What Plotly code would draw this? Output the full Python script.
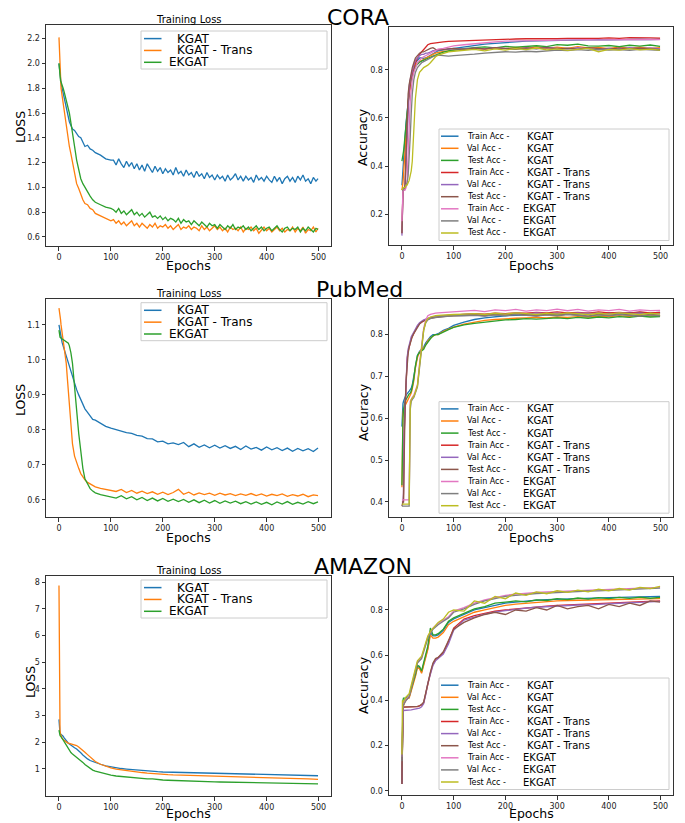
import plotly.graph_objects as go

# The page body has an 8px margin, so the figure is drawn 8px right/down of the window origin.
PAGE_OFFSET = 8
W, H = 685 - PAGE_OFFSET, 823 - PAGE_OFFSET

EPOCHS_CORA_LOSS = [0, 1, 2, 3, 4, 6, 8, 10, 12, 14, 16, 18, 20, 23, 26, 30, 34, 38, 42, 46, 50, 55, 60, 65, 70, 80, 90, 100,
                    105, 110, 115, 120, 125, 130, 135, 140, 145, 150, 155, 160, 165, 170, 175, 180, 185, 190, 195, 200,
                    205, 210, 215, 220, 225, 230, 235, 240, 245, 250, 255, 260, 265, 270, 275, 280, 285, 290, 295, 300,
                    305, 310, 315, 320, 325, 330, 335, 340, 345, 350, 355, 360, 365, 370, 375, 380, 385, 390, 395, 400,
                    405, 410, 415, 420, 425, 430, 435, 440, 445, 450, 455, 460, 465, 470, 475, 480, 485, 490, 495, 499]
EPOCHS_LOSS = [0, 1, 2, 3, 4, 6, 8, 10, 12, 14, 16, 18, 20, 23, 26, 30, 34, 38, 42, 46, 50, 55, 60, 65, 70, 80, 90, 100,
               110, 120, 130, 140, 150, 160, 170, 180, 190, 200, 210, 220, 230, 240, 250, 260, 270, 280, 290, 300,
               310, 320, 330, 340, 350, 360, 370, 380, 390, 400, 410, 420, 430, 440, 450, 460, 470, 480, 490, 499]
EPOCHS_ACC = [0, 1, 2, 3, 4, 6, 8, 10, 12, 14, 16, 18, 20, 23, 26, 30, 34, 38, 42, 46, 50, 55, 60, 65, 70, 80, 90, 100,
              120, 140, 160, 180, 200, 220, 240, 260, 280, 300, 320, 340, 360, 380, 400, 420, 440, 460, 480, 499]

# ---------------- Training loss ----------------
CORA_LOSS_KGAT = [2.00, 1.95, 1.90, 1.86, 1.84, 1.80, 1.76, 1.72, 1.68, 1.64, 1.60, 1.57, 1.53, 1.50, 1.47, 1.46, 1.43, 1.41, 1.40, 1.37, 1.33, 1.34, 1.31, 1.30, 1.28, 1.26, 1.23, 1.22,
                  1.22, 1.18, 1.23, 1.19, 1.16, 1.21, 1.17, 1.20, 1.15, 1.19, 1.14, 1.18, 1.13, 1.19, 1.15, 1.12, 1.17, 1.13, 1.16, 1.11,
                  1.15, 1.12, 1.14, 1.10, 1.16, 1.11, 1.13, 1.09, 1.14, 1.10, 1.12, 1.08, 1.13, 1.09, 1.11, 1.07, 1.12, 1.08, 1.10, 1.06,
                  1.10, 1.07, 1.09, 1.05, 1.10, 1.06, 1.08, 1.11, 1.06, 1.09, 1.05, 1.09, 1.06, 1.08, 1.04, 1.10, 1.06, 1.08, 1.05, 1.09,
                  1.06, 1.04, 1.09, 1.05, 1.08, 1.03, 1.07, 1.09, 1.05, 1.08, 1.04, 1.09, 1.06, 1.10, 1.05, 1.07, 1.03, 1.08, 1.05, 1.07]
CORA_LOSS_TRANS = [2.21, 2.05, 1.92, 1.85, 1.80, 1.74, 1.68, 1.62, 1.55, 1.48, 1.42, 1.38, 1.33, 1.27, 1.20, 1.09, 1.03, 0.99, 0.94, 0.90, 0.87, 0.86, 0.83, 0.82, 0.79, 0.77, 0.75, 0.73,
                   0.74, 0.71, 0.73, 0.70, 0.72, 0.69, 0.71, 0.73, 0.69, 0.71, 0.68, 0.71, 0.69, 0.67, 0.70, 0.68, 0.71, 0.67, 0.69, 0.68,
                   0.70, 0.67, 0.69, 0.66, 0.68, 0.70, 0.66, 0.68, 0.67, 0.69, 0.66, 0.68, 0.67, 0.65, 0.69, 0.66, 0.68, 0.65, 0.67, 0.69,
                   0.66, 0.68, 0.65, 0.67, 0.64, 0.68, 0.66, 0.67, 0.65, 0.68, 0.64, 0.67, 0.66, 0.68, 0.65, 0.67, 0.63, 0.66, 0.68, 0.65,
                   0.67, 0.64, 0.66, 0.68, 0.65, 0.67, 0.64, 0.66, 0.65, 0.68, 0.64, 0.67, 0.65, 0.68, 0.63, 0.66, 0.65, 0.68, 0.64, 0.67]
CORA_LOSS_EKGAT = [2.00, 1.93, 1.88, 1.86, 1.85, 1.83, 1.80, 1.77, 1.74, 1.70, 1.66, 1.63, 1.60, 1.52, 1.45, 1.33, 1.22, 1.13, 1.07, 1.03, 1.00, 0.97, 0.93, 0.90, 0.88, 0.86, 0.84, 0.83,
                   0.82, 0.80, 0.83, 0.79, 0.81, 0.78, 0.80, 0.82, 0.78, 0.80, 0.77, 0.79, 0.76, 0.78, 0.80, 0.76, 0.77, 0.75, 0.77, 0.74,
                   0.76, 0.73, 0.75, 0.74, 0.72, 0.75, 0.71, 0.74, 0.72, 0.73, 0.70, 0.73, 0.71, 0.69, 0.72, 0.70, 0.68, 0.71, 0.69, 0.70,
                   0.67, 0.70, 0.68, 0.66, 0.69, 0.67, 0.70, 0.66, 0.68, 0.67, 0.69, 0.66, 0.68, 0.65, 0.67, 0.69, 0.66, 0.68, 0.65, 0.67,
                   0.68, 0.65, 0.67, 0.69, 0.66, 0.64, 0.67, 0.68, 0.65, 0.67, 0.66, 0.68, 0.64, 0.67, 0.65, 0.68, 0.66, 0.64, 0.67, 0.66]

PUB_LOSS_KGAT = [1.10, 1.09, 1.08, 1.07, 1.06, 1.05, 1.04, 1.03, 1.02, 1.01, 1.00, 0.99, 0.98, 0.965, 0.95, 0.93, 0.915, 0.90, 0.885, 0.87, 0.86, 0.85, 0.84, 0.83, 0.828, 0.82, 0.81, 0.805,
                 0.80, 0.795, 0.792, 0.79, 0.784, 0.782, 0.775, 0.774, 0.766, 0.768, 0.76, 0.763, 0.758, 0.764, 0.752, 0.76, 0.75, 0.757, 0.749, 0.756,
                 0.748, 0.755, 0.747, 0.753, 0.744, 0.754, 0.745, 0.75, 0.742, 0.751, 0.743, 0.749, 0.741, 0.748, 0.739, 0.747, 0.74, 0.746, 0.738, 0.748]
PUB_LOSS_TRANS = [1.148, 1.14, 1.13, 1.115, 1.10, 1.08, 1.06, 1.04, 1.02, 0.99, 0.95, 0.91, 0.87, 0.81, 0.76, 0.725, 0.705, 0.69, 0.675, 0.665, 0.657, 0.65, 0.645, 0.64, 0.637, 0.633, 0.63, 0.628,
                  0.624, 0.63, 0.621, 0.627, 0.619, 0.625, 0.618, 0.623, 0.616, 0.622, 0.615, 0.621, 0.63, 0.616, 0.622, 0.614, 0.62, 0.615, 0.619, 0.613,
                  0.619, 0.614, 0.618, 0.612, 0.617, 0.613, 0.618, 0.612, 0.617, 0.611, 0.616, 0.612, 0.617, 0.61, 0.615, 0.611, 0.616, 0.609, 0.614, 0.612]
PUB_LOSS_EKGAT = [1.085, 1.07, 1.065, 1.063, 1.062, 1.061, 1.06, 1.058, 1.056, 1.054, 1.052, 1.048, 1.04, 1.02, 0.99, 0.915, 0.86, 0.79, 0.74, 0.69, 0.66, 0.645, 0.632, 0.625, 0.62, 0.615, 0.612, 0.61,
                  0.605, 0.612, 0.603, 0.609, 0.60, 0.607, 0.598, 0.605, 0.597, 0.604, 0.596, 0.602, 0.595, 0.601, 0.593, 0.60, 0.592, 0.599, 0.591, 0.598,
                  0.59, 0.597, 0.591, 0.596, 0.589, 0.595, 0.588, 0.594, 0.587, 0.593, 0.586, 0.594, 0.588, 0.595, 0.587, 0.593, 0.588, 0.595, 0.589, 0.594]

AMZ_LOSS_KGAT = [2.85, 2.40, 2.32, 2.30, 2.29, 2.27, 2.22, 2.16, 2.10, 2.05, 2.00, 1.96, 1.93, 1.88, 1.84, 1.79, 1.74, 1.68, 1.60, 1.52, 1.44, 1.37, 1.31, 1.27, 1.23, 1.17, 1.11, 1.07,
                 1.04, 1.01, 0.99, 0.97, 0.95, 0.93, 0.92, 0.90, 0.89, 0.88, 0.875, 0.865, 0.86, 0.85, 0.845, 0.84, 0.83, 0.825, 0.82, 0.815,
                 0.81, 0.805, 0.80, 0.795, 0.79, 0.787, 0.784, 0.78, 0.775, 0.77, 0.767, 0.764, 0.76, 0.757, 0.754, 0.75, 0.747, 0.744, 0.74, 0.738]
AMZ_LOSS_TRANS = [7.87, 2.90, 2.45, 2.30, 2.22, 2.15, 2.10, 2.06, 2.03, 2.00, 1.98, 1.96, 1.95, 1.93, 1.91, 1.89, 1.87, 1.82, 1.76, 1.69, 1.62, 1.53, 1.43, 1.34, 1.27, 1.17, 1.09, 1.03,
                  0.99, 0.96, 0.93, 0.90, 0.88, 0.86, 0.84, 0.82, 0.80, 0.79, 0.78, 0.77, 0.765, 0.76, 0.755, 0.75, 0.745, 0.74, 0.73, 0.725,
                  0.72, 0.715, 0.71, 0.705, 0.70, 0.695, 0.69, 0.685, 0.68, 0.675, 0.67, 0.665, 0.66, 0.655, 0.65, 0.64, 0.63, 0.62, 0.61, 0.60]
AMZ_LOSS_EKGAT = [2.45, 2.30, 2.25, 2.22, 2.20, 2.15, 2.08, 2.02, 1.95, 1.87, 1.80, 1.73, 1.67, 1.61, 1.55, 1.49, 1.44, 1.39, 1.32, 1.24, 1.16, 1.08, 1.01, 0.95, 0.91, 0.86, 0.80, 0.76,
                  0.73, 0.71, 0.69, 0.67, 0.65, 0.63, 0.62, 0.625, 0.59, 0.58, 0.57, 0.56, 0.555, 0.55, 0.54, 0.535, 0.53, 0.52, 0.515, 0.51,
                  0.505, 0.50, 0.495, 0.49, 0.485, 0.48, 0.475, 0.47, 0.465, 0.46, 0.458, 0.455, 0.452, 0.45, 0.447, 0.444, 0.441, 0.438, 0.435, 0.432]

# ---------------- Accuracy ----------------
CORA_TRAIN_KGAT = [.32, .36, .40, .43, .46, .52, .58, .63, .68, .72, .75, .77, .79, .81, .83, .84, .85, .85, .848, .85, .855, .862, .87, .875, .88, .884, .887, .89,
                   .897, .903, .908, .911, .915, .917, .92, .921, .922, .924, .923, .925, .924, .926, .925, .927, .926, .928, .927, .928]
CORA_VAL_KGAT = [.30, .31, .33, .36, .40, .47, .54, .60, .66, .70, .73, .76, .78, .80, .82, .83, .835, .84, .845, .85, .855, .86, .865, .87, .873, .877, .88, .884,
                 .887, .89, .886, .892, .889, .894, .89, .896, .891, .895, .89, .897, .892, .894, .889, .896, .891, .895, .89, .893]
CORA_TEST_KGAT = [.42, .43, .44, .46, .48, .53, .58, .63, .67, .71, .74, .76, .78, .80, .815, .825, .832, .837, .84, .843, .848, .853, .858, .862, .868, .874, .879, .883,
                  .889, .893, .896, .892, .898, .895, .899, .901, .897, .906, .903, .908, .90, .899, .902, .897, .903, .899, .904, .898]
CORA_TRAIN_TRANS = [.12, .28, .30, .30, .30, .31, .40, .55, .66, .72, .75, .77, .79, .81, .83, .85, .865, .875, .885, .895, .905, .91, .912, .914, .915, .917, .919, .92,
                    .922, .924, .925, .927, .928, .929, .93, .929, .931, .93, .932, .931, .933, .932, .934, .932, .935, .933, .934, .933]
CORA_VAL_TRANS = [.11, .27, .29, .30, .30, .31, .42, .57, .68, .73, .76, .78, .80, .82, .84, .85, .86, .865, .865, .87, .87, .875, .88, .88, .884, .885, .887, .889,
                  .887, .891, .888, .893, .889, .886, .892, .888, .894, .89, .887, .893, .888, .884, .891, .887, .893, .889, .892, .888]
CORA_TEST_TRANS = [.12, .28, .30, .30, .31, .32, .45, .60, .70, .74, .77, .79, .81, .83, .85, .86, .87, .875, .875, .88, .885, .89, .893, .886, .884, .887, .889, .89,
                   .886, .891, .888, .893, .89, .887, .892, .889, .893, .888, .891, .887, .893, .889, .886, .892, .888, .891, .887, .885]
CORA_TRAIN_EKGAT = [.17, .29, .30, .30, .30, .30, .31, .34, .45, .58, .67, .72, .76, .79, .81, .83, .84, .85, .855, .86, .865, .87, .878, .883, .887, .89, .895, .90,
                    .905, .91, .913, .917, .92, .921, .922, .923, .923, .924, .925, .924, .926, .925, .926, .925, .927, .926, .927, .926]
CORA_VAL_EKGAT = [.30, .30, .30, .31, .31, .31, .32, .33, .36, .42, .52, .62, .70, .76, .79, .81, .82, .83, .835, .84, .845, .85, .855, .86, .862, .86, .858, .86,
                  .862, .866, .87, .872, .876, .874, .878, .876, .88, .883, .881, .885, .882, .886, .883, .885, .882, .886, .884, .882]
CORA_TEST_EKGAT = [.30, .31, .31, .31, .31, .31, .32, .32, .33, .34, .36, .38, .42, .55, .68, .76, .79, .80, .81, .815, .82, .83, .845, .855, .862, .87, .875, .878,
                   .882, .886, .88, .888, .883, .889, .885, .891, .884, .888, .882, .887, .89, .876, .886, .883, .889, .884, .887, .883]

PUB_TRAIN_KGAT = [.58, .62, .635, .64, .645, .65, .655, .66, .662, .665, .668, .672, .68, .70, .725, .75, .76, .765, .77, .78, .787, .795, .80, .80, .802, .81, .815, .822,
                  .83, .836, .84, .843, .845, .846, .847, .848, .849, .848, .85, .849, .851, .85, .852, .851, .852, .853, .852, .853]
PUB_VAL_KGAT = [.435, .58, .61, .62, .625, .63, .635, .64, .645, .65, .655, .66, .67, .69, .72, .745, .758, .762, .768, .775, .785, .792, .797, .80, .80, .808, .813, .818,
                .825, .83, .834, .836, .838, .839, .84, .841, .84, .842, .841, .843, .842, .844, .843, .845, .843, .846, .844, .845]
PUB_TEST_KGAT = [.44, .56, .60, .62, .63, .64, .645, .65, .655, .658, .66, .665, .675, .695, .725, .75, .757, .76, .765, .775, .783, .79, .797, .80, .80, .807, .812, .817,
                 .823, .827, .83, .832, .835, .836, .838, .837, .839, .84, .838, .841, .839, .842, .84, .843, .841, .844, .842, .843]
PUB_TRAIN_TRANS = [.40, .40, .40, .40, .55, .63, .70, .74, .76, .775, .78, .79, .795, .805, .812, .82, .826, .83, .833, .836, .838, .84, .842, .843, .844, .845, .846, .847,
                   .848, .85, .849, .851, .85, .852, .851, .853, .852, .854, .852, .853, .851, .854, .852, .853, .851, .854, .852, .853]
PUB_VAL_TRANS = [.395, .395, .40, .42, .56, .64, .71, .745, .765, .78, .785, .795, .80, .808, .815, .822, .828, .832, .835, .837, .839, .841, .842, .843, .844, .845, .846, .847,
                 .848, .849, .847, .85, .848, .851, .849, .852, .85, .851, .849, .852, .85, .851, .849, .852, .85, .851, .849, .85]
PUB_TEST_TRANS = [.39, .40, .40, .40, .52, .62, .69, .73, .755, .77, .78, .787, .795, .803, .81, .818, .825, .83, .832, .835, .837, .839, .84, .841, .842, .843, .844, .845,
                  .846, .847, .845, .848, .846, .849, .847, .845, .848, .846, .849, .847, .844, .848, .846, .849, .847, .845, .848, .846]
PUB_TRAIN_EKGAT = [.405, .405, .405, .405, .405, .405, .405, .405, .405, .405, .64, .648, .65, .655, .665, .68, .73, .78, .815, .835, .845, .848, .85, .851, .852, .853, .854, .855,
                   .856, .858, .855, .859, .857, .86, .856, .859, .857, .861, .857, .86, .856, .859, .857, .86, .856, .859, .857, .858]
PUB_VAL_EKGAT = [.39, .39, .39, .39, .39, .39, .39, .39, .39, .39, .62, .64, .645, .65, .66, .675, .72, .77, .81, .828, .835, .838, .84, .841, .842, .843, .844, .845,
                 .845, .846, .844, .847, .845, .848, .846, .844, .847, .845, .848, .846, .844, .847, .845, .848, .846, .844, .847, .845]
PUB_TEST_EKGAT = [.395, .395, .395, .395, .395, .395, .395, .395, .395, .395, .63, .645, .648, .652, .662, .678, .725, .775, .81, .83, .838, .842, .844, .845, .846, .847, .848, .848,
                  .849, .85, .848, .851, .849, .852, .85, .848, .851, .849, .852, .85, .848, .851, .849, .852, .85, .848, .851, .849]

AMZ_TRAIN_KGAT = [.04, .36, .37, .38, .39, .40, .405, .41, .41, .415, .43, .45, .47, .49, .51, .55, .545, .525, .56, .60, .63, .70, .685, .685, .69, .71, .745, .76,
                  .78, .80, .81, .82, .83, .835, .84, .843, .846, .848, .85, .851, .853, .854, .855, .856, .857, .858, .859, .86]
AMZ_VAL_KGAT = [.05, .35, .365, .375, .385, .395, .40, .405, .41, .41, .425, .445, .465, .485, .505, .545, .54, .52, .555, .595, .625, .69, .675, .675, .68, .70, .735, .75,
                .77, .79, .80, .81, .82, .826, .83, .834, .837, .84, .842, .843, .845, .846, .847, .848, .849, .85, .849, .85]
AMZ_TEST_KGAT = [.03, .38, .40, .41, .41, .41, .41, .415, .415, .42, .435, .455, .475, .495, .515, .555, .55, .53, .565, .605, .64, .72, .69, .69, .695, .715, .75, .765,
                 .785, .805, .815, .83, .835, .84, .836, .845, .842, .85, .846, .853, .848, .855, .85, .856, .851, .857, .852, .856]
AMZ_TRAIN_TRANS = [.03, .36, .365, .37, .37, .37, .37, .37, .37, .37, .37, .37, .37, .37, .372, .372, .375, .38, .39, .43, .48, .52, .56, .58, .59, .61, .66, .72,
                   .76, .775, .785, .795, .80, .805, .81, .815, .817, .82, .822, .823, .825, .827, .83, .832, .834, .836, .838, .84]
AMZ_VAL_TRANS = [.03, .355, .355, .355, .355, .356, .356, .357, .357, .358, .358, .358, .359, .36, .36, .362, .365, .372, .385, .425, .475, .515, .555, .575, .585, .605, .65, .71,
                 .755, .77, .782, .792, .798, .803, .808, .812, .815, .818, .82, .822, .823, .826, .828, .83, .832, .834, .836, .838]
AMZ_TEST_TRANS = [.03, .36, .37, .37, .37, .37, .37, .37, .37, .37, .37, .37, .37, .372, .372, .373, .376, .382, .392, .435, .485, .525, .565, .585, .59, .615, .665, .715,
                  .745, .765, .78, .79, .78, .80, .795, .81, .80, .82, .805, .815, .82, .805, .825, .815, .83, .82, .84, .835]
AMZ_TRAIN_EKGAT = [.15, .38, .38, .385, .39, .40, .405, .41, .415, .42, .44, .46, .48, .50, .53, .57, .58, .59, .62, .65, .68, .70, .72, .73, .74, .755, .77, .795,
                   .81, .83, .845, .855, .865, .87, .875, .878, .88, .882, .884, .885, .887, .888, .89, .892, .894, .896, .898, .90]
AMZ_VAL_EKGAT = [.13, .37, .375, .38, .385, .395, .40, .405, .41, .415, .435, .455, .475, .495, .525, .565, .575, .585, .615, .645, .675, .695, .715, .725, .735, .75, .765, .79,
                 .805, .825, .84, .85, .86, .865, .87, .873, .875, .878, .88, .882, .884, .885, .887, .889, .891, .893, .895, .897]
AMZ_TEST_EKGAT = [.16, .40, .39, .395, .40, .41, .415, .42, .425, .43, .45, .47, .49, .51, .54, .575, .585, .595, .625, .655, .685, .705, .72, .735, .745, .76, .79, .80,
                  .795, .84, .83, .86, .85, .875, .865, .88, .872, .885, .878, .888, .88, .892, .885, .895, .888, .90, .895, .905]

DATASETS = ["CORA", "PubMed", "AMAZON"]
MODELS = ["KGAT", "KGAT - Trans", "EKGAT"]
SPLITS = ["Train Acc -", "Val Acc -", "Test Acc -"]
EPOCH_TICKS = [0, 100, 200, 300, 400, 500]
LOSS_TICKS = [[0.6, 0.8, 1.0, 1.2, 1.4, 1.6, 1.8, 2.0, 2.2],
              [0.6, 0.7, 0.8, 0.9, 1.0, 1.1],
              [1, 2, 3, 4, 5, 6, 7, 8]]
LOSS_TICKTEXT = [["0.6", "0.8", "1.0", "1.2", "1.4", "1.6", "1.8", "2.0", "2.2"],
                 ["0.6", "0.7", "0.8", "0.9", "1.0", "1.1"],
                 ["1", "2", "3", "4", "5", "6", "7", "8"]]
ACC_TICKS = [[0.2, 0.4, 0.6, 0.8], [0.4, 0.5, 0.6, 0.7, 0.8], [0.0, 0.2, 0.4, 0.6, 0.8]]
ACC_TICKTEXT = [["0.2", "0.4", "0.6", "0.8"], ["0.4", "0.5", "0.6", "0.7", "0.8"], ["0.0", "0.2", "0.4", "0.6", "0.8"]]
COLORS = ["#1f77b4", "#ff7f0e", "#2ca02c", "#d62728", "#9467bd", "#8c564b", "#e377c2", "#7f7f7f", "#bcbd22"]

LOSS_EPOCHS = [EPOCHS_CORA_LOSS, EPOCHS_LOSS, EPOCHS_LOSS]
LOSS_SERIES = [[CORA_LOSS_KGAT, CORA_LOSS_TRANS, CORA_LOSS_EKGAT],
               [PUB_LOSS_KGAT, PUB_LOSS_TRANS, PUB_LOSS_EKGAT],
               [AMZ_LOSS_KGAT, AMZ_LOSS_TRANS, AMZ_LOSS_EKGAT]]
ACC_SERIES = [[CORA_TRAIN_KGAT, CORA_VAL_KGAT, CORA_TEST_KGAT, CORA_TRAIN_TRANS, CORA_VAL_TRANS, CORA_TEST_TRANS,
               CORA_TRAIN_EKGAT, CORA_VAL_EKGAT, CORA_TEST_EKGAT],
              [PUB_TRAIN_KGAT, PUB_VAL_KGAT, PUB_TEST_KGAT, PUB_TRAIN_TRANS, PUB_VAL_TRANS, PUB_TEST_TRANS,
               PUB_TRAIN_EKGAT, PUB_VAL_EKGAT, PUB_TEST_EKGAT],
              [AMZ_TRAIN_KGAT, AMZ_VAL_KGAT, AMZ_TEST_KGAT, AMZ_TRAIN_TRANS, AMZ_VAL_TRANS, AMZ_TEST_TRANS,
               AMZ_TRAIN_EKGAT, AMZ_VAL_EKGAT, AMZ_TEST_EKGAT]]

# ---------------- layout geometry (window pixels) ----------------
LOSS_BOX = [(46, 331, 25, 246), (46, 331, 299, 517), (46, 331, 576, 796)]
ACC_BOX = [(389, 673, 27, 245), (389, 673, 299, 517), (389, 673, 577, 795)]
LOSS_YRANGE = [(0.527, 2.31), (0.551, 1.174), (-0.02, 8.225)]
ACC_YRANGE = [(0.071, 0.979), (0.364, 0.885), (-0.019, 0.946)]
XRANGE = [-25, 524]
TITLE_POS = [(358, 17), (359, 289), (362.7, 566)]
EPOCHS_Y = [266, 537, 813.5]
LOSS_LABEL_X = [20, 20, 30]
LOSS_LABEL_Y = [127, 400, 682]
ACC_LABEL_Y = [137, 412, 685]
LLEG_TOP = [31, 302.7, 580]
RLEG_TOP = [129, 401.7, 678]
FONT = "DejaVu Sans"


def fx(x):
    return (x - PAGE_OFFSET) / W


def fy(y):
    return 1 - (y - PAGE_OFFSET) / H


fig = go.Figure()
annotations = []
shapes = []
layout_axes = {}


def ann(x, y, text, size, xanchor="center", yanchor="middle", angle=0, color="#000"):
    annotations.append(dict(x=fx(x), y=fy(y), xref="paper", yref="paper", text=text, showarrow=False,
                            xanchor=xanchor, yanchor=yanchor, textangle=angle,
                            font=dict(family=FONT, size=size, color=color)))


def axis_common():
    return dict(showline=True, mirror=True, linecolor="#333", linewidth=1, ticks="outside", ticklen=3.5,
                tickwidth=1, tickcolor="#333", tickfont=dict(family=FONT, size=8, color="#222"),
                showgrid=False, zeroline=False)


for r in range(3):
    for kind in range(2):
        idx = 2 * r + kind + 1
        xa = "x" if idx == 1 else f"x{idx}"
        ya = "y" if idx == 1 else f"y{idx}"
        box = LOSS_BOX[r] if kind == 0 else ACC_BOX[r]
        xd = dict(axis_common(), domain=[fx(box[0]), fx(box[1])], range=XRANGE, anchor=ya,
                  tickmode="array", tickvals=EPOCH_TICKS, ticktext=[str(t) for t in EPOCH_TICKS])
        if kind == 0:
            yd = dict(axis_common(), domain=[fy(box[3]), fy(box[2])], range=list(LOSS_YRANGE[r]), anchor=xa,
                      tickmode="array", tickvals=LOSS_TICKS[r], ticktext=LOSS_TICKTEXT[r])
            for i, ser in enumerate(LOSS_SERIES[r]):
                fig.add_trace(go.Scatter(x=LOSS_EPOCHS[r], y=ser, mode="lines", name=MODELS[i], xaxis=xa, yaxis=ya,
                                         line=dict(color=COLORS[i], width=1.3), showlegend=False))
        else:
            yd = dict(axis_common(), domain=[fy(box[3]), fy(box[2])], range=list(ACC_YRANGE[r]), anchor=xa,
                      tickmode="array", tickvals=ACC_TICKS[r], ticktext=ACC_TICKTEXT[r])
            for i, ser in enumerate(ACC_SERIES[r]):
                fig.add_trace(go.Scatter(x=EPOCHS_ACC, y=ser, mode="lines", name=SPLITS[i % 3] + " " + MODELS[i // 3],
                                         xaxis=xa, yaxis=ya, line=dict(color=COLORS[i], width=1.3), showlegend=False))
        layout_axes["xaxis" if idx == 1 else f"xaxis{idx}"] = xd
        layout_axes["yaxis" if idx == 1 else f"yaxis{idx}"] = yd

    # titles and axis labels
    ann(TITLE_POS[r][0], TITLE_POS[r][1], DATASETS[r], 22)
    ann((LOSS_BOX[r][0] + LOSS_BOX[r][1]) / 2, LOSS_BOX[r][2] - 6, "Training Loss", 10)
    ann((LOSS_BOX[r][0] + LOSS_BOX[r][1]) / 2, EPOCHS_Y[r], "Epochs", 12.5)
    ann((ACC_BOX[r][0] + ACC_BOX[r][1]) / 2, EPOCHS_Y[r], "Epochs", 12.5)
    ann(LOSS_LABEL_X[r], LOSS_LABEL_Y[r], "LOSS", 12.5, angle=-90)
    ann(363, ACC_LABEL_Y[r], "Accuracy", 12.5, angle=-90)

    # loss legend
    top = LLEG_TOP[r]
    shapes.append(dict(type="rect", xref="paper", yref="paper", x0=fx(141), x1=fx(327), y0=fy(top + 38), y1=fy(top),
                       fillcolor="rgba(255,255,255,0.8)", line=dict(color="#cccccc", width=1)))
    for i, name in enumerate(MODELS):
        yy = top + 7.6 + 11.85 * i
        shapes.append(dict(type="line", xref="paper", yref="paper", x0=fx(144), x1=fx(161.5), y0=fy(yy), y1=fy(yy),
                           line=dict(color=COLORS[i], width=1.5)))
        ann(175 if i < 2 else 166.7, yy, name, 12, xanchor="left")

    # accuracy legend
    top = RLEG_TOP[r]
    shapes.append(dict(type="rect", xref="paper", yref="paper", x0=fx(439), x1=fx(669), y0=fy(top + 111.5), y1=fy(top),
                       fillcolor="rgba(255,255,255,0.8)", line=dict(color="#cccccc", width=1)))
    for i in range(9):
        yy = top + 7.2 + 12.1 * i
        shapes.append(dict(type="line", xref="paper", yref="paper", x0=fx(441), x1=fx(458.5), y0=fy(yy), y1=fy(yy),
                           line=dict(color=COLORS[i], width=1.5)))
        ann(465, yy, SPLITS[i % 3], 8, xanchor="left")
        ann(524.5 if i < 6 else 521, yy, MODELS[i // 3], 10, xanchor="left")

fig.update_layout(width=W, height=H, autosize=False, margin=dict(l=0, r=0, t=0, b=0),
                  paper_bgcolor="white", plot_bgcolor="white", showlegend=False,
                  font=dict(family=FONT), annotations=annotations, shapes=shapes, **layout_axes)

fig.write_html("out.html")
